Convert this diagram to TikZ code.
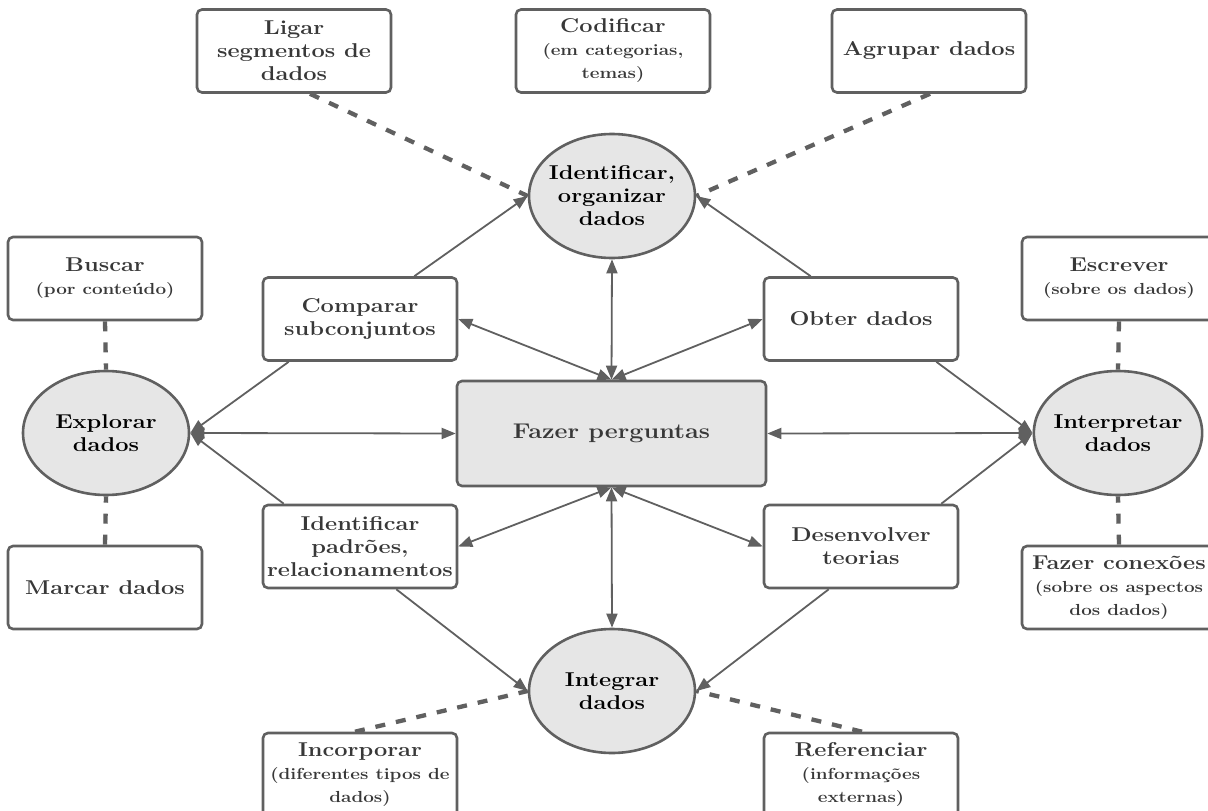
\documentclass[tikz,border=0pt]{standalone}
\usepackage{fontspec}
\setmainfont{Latin Modern Roman}[FakeStretch=1.18]
\usetikzlibrary{arrows.meta,shapes.geometric,calc}
\definecolor{edgegray}{HTML}{606060}
\definecolor{fillgray}{HTML}{E6E6E6}
\definecolor{txtgray}{HTML}{383838}
\newcommand{\subt}[1]{{\fontsize{16}{18}\selectfont #1}}
\begin{document}
\begin{tikzpicture}[x=1pt,y=-1pt,
  every node/.style={font=\fontsize{20}{23}\selectfont\bfseries, align=center, inner sep=0pt},
  rbox/.style={draw=edgegray, line width=2.6pt, rounded corners=5pt, fill=white,
    minimum width=194pt, minimum height=83pt, text=txtgray},
  cbox/.style={rbox, fill=fillgray, minimum width=309pt, minimum height=105pt,
    font=\fontsize{21.3}{25}\selectfont\bfseries},
  ell/.style={ellipse, draw=edgegray, line width=2.6pt, fill=fillgray,
    inner xsep=-5pt, inner ysep=0pt,
    minimum width=166pt, minimum height=124pt, text=black},
  arr/.style={draw=edgegray, line width=1.8pt, -{Triangle[length=14pt,width=11pt]}},
  darr/.style={draw=edgegray, line width=1.8pt, {Triangle[length=14pt,width=11pt]}-{Triangle[length=14pt,width=11pt]}},
  dsh/.style={draw=edgegray, line width=4.3pt, dash pattern=on 10pt off 11pt}
]
\useasboundingbox (0,0) rectangle (1208,811);
% nodes
\node[rbox] (lig) at (294,51) {Ligar\\segmentos de\\dados};
\node[rbox] (cod) at (613,51) {Codificar\\\subt{(em categorias,}\\\subt{temas)}};
\node[rbox] (agr) at (929,51) {Agrupar dados};
\node[ell] (idf) at (612,196) {Identificar,\\organizar\\dados};
\node[rbox] (bus) at (105,278.5) {Buscar\\\subt{(por conteúdo)}};
\node[rbox] (cmp) at (360,319) {Comparar\\subconjuntos};
\node[rbox] (obt) at (861,319) {Obter dados};
\node[rbox] (esc) at (1119,278.5) {Escrever\\\subt{(sobre os dados)}};
\node[ell] (exp) at (106,433) {Explorar\\dados};
\node[cbox] (faz) at (611.5,433.5) {Fazer perguntas};
\node[ell] (itp) at (1118,433) {Interpretar\\dados};
\node[rbox] (mar) at (105,587.5) {Marcar dados};
\node[rbox] (idp) at (360,546.5) {Identificar\\padrões,\\relacionamentos};
\node[rbox] (dev) at (861,546.5) {Desenvolver\\teorias};
\node[rbox] (con) at (1119,587.5) {Fazer conexões\\\subt{(sobre os aspectos}\\\subt{dos dados)}};
\node[ell] (ing) at (612,691) {Integrar\\dados};
\node[rbox] (inc) at (360,774.5) {Incorporar\\\subt{(diferentes tipos de}\\\subt{dados)}};
\node[rbox] (ref) at (861,774.5) {Referenciar\\\subt{(informações}\\\subt{externas)}};
% dashed links
\draw[dsh] ([xshift=16pt]lig.south) -- (idf.west);
\draw[dsh] ([xshift=1pt]agr.south) -- (idf.east);
\draw[dsh] (bus.south) -- (exp.north);
\draw[dsh] (mar.north) -- (exp.south);
\draw[dsh] (esc.south) -- (itp.north);
\draw[dsh] (con.north) -- (itp.south);
\draw[dsh] ([xshift=-5pt]inc.north) -- (ing.west);
\draw[dsh] ([xshift=1pt]ref.north) -- (ing.east);
% arrows
\draw[arr] ([xshift=-44pt]cmp.north east) -- (idf.west);
\draw[arr] ([xshift=48pt]obt.north west) -- (idf.east);
\draw[darr] (idf.south) -- (faz.north);
\draw[darr] (cmp.east) -- (faz.north);
\draw[darr] (obt.west) -- (faz.north);
\draw[arr] ([xshift=27pt]cmp.south west) -- (exp.east);
\draw[arr] ([xshift=22pt]idp.north west) -- (exp.east);
\draw[darr] (faz.west) -- (exp.east);
\draw[darr] (faz.east) -- (itp.west);
\draw[arr] ([xshift=-23pt]obt.south east) -- (itp.west);
\draw[arr] ([xshift=-18pt]dev.north east) -- (itp.west);
\draw[darr] (faz.south) -- (idp.east);
\draw[darr] (faz.south) -- (dev.west);
\draw[darr] (faz.south) -- (ing.north);
\draw[arr] ([xshift=-62pt]idp.south east) -- (ing.west);
\draw[arr] ([xshift=66pt]dev.south west) -- (ing.east);
\end{tikzpicture}
\end{document}
